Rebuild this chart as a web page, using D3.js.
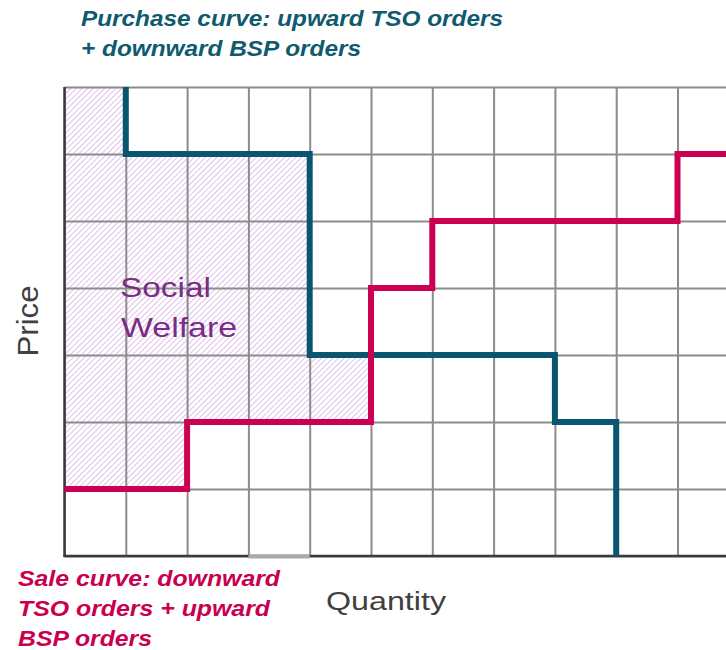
<!DOCTYPE html>
<html><head><meta charset="utf-8">
<script src="https://cdn.jsdelivr.net/npm/d3@7"></script>
<style>html,body{margin:0;padding:0;background:#fff;}svg{display:block;font-family:"Liberation Sans",Arial,sans-serif;}</style>
</head><body><div id="chart"></div>
<script>
// Data (in grid units: quantity steps and price steps)
const qtyTicks = d3.range(0, 12);      // 0..11 vertical grid lines
const priceTicks = d3.range(0, 8);     // 0..7 horizontal grid lines
// Purchase curve: vertical drops at these quantities, prices between them
const purchaseQty = [1, 4, 8, 9];
const purchasePrice = [7, 6, 3, 2, 0];
// Sale curve: step breakpoints and price levels
const saleQty = [0, 2, 5, 6, 10, 11];
const salePrice = [1, 2, 4, 5, 6];
const welfareEndQty = 5;
const welfareQty = [0, 1, 2, 4, 5];

const titleLines = ["Purchase curve: upward TSO orders", "+ downward BSP orders"];
const saleLines = ["Sale curve: downward", "TSO orders + upward", "BSP orders"];
const welfareLines = ["Social", "Welfare"];

const W = 726, H = 650;
const svg = d3.select("#chart").append("svg").attr("width", W).attr("height", H);

const x = d3.scaleLinear().domain([0, 11]).range([64.5, 64.5 + 11 * 61.3]);
const y = d3.scaleLinear().domain([0, 7]).range([556, 87]);

// hatch pattern
const defs = svg.append("defs");
const pat = defs.append("pattern").attr("id", "hatch").attr("patternUnits", "userSpaceOnUse")
  .attr("width", 4).attr("height", 4).attr("patternTransform", "rotate(45)");
pat.append("line").attr("x1", 0).attr("y1", 0).attr("x2", 0).attr("y2", 4)
  .attr("stroke", "#d4ade2").attr("stroke-width", 1.5);

// welfare area
const purchaseAt = q => purchasePrice[purchaseQty.filter(v => v <= q).length];
const saleAt = q => salePrice[saleQty.slice(1).filter(v => v <= q).length];
const welfareData = welfareQty.map((q, i) => {
  const qq = q >= welfareEndQty ? welfareQty[i - 1] : q;
  return {q, top: purchaseAt(qq), bot: saleAt(qq)};
});
svg.append("path").datum(welfareData)
  .attr("d", d3.area().curve(d3.curveStepAfter).x(d => x(d.q)).y0(d => y(d.bot)).y1(d => y(d.top)))
  .attr("fill", "url(#hatch)");

// grid
const gx = svg.append("g").attr("transform", `translate(0,${y(0)})`)
  .call(d3.axisBottom(x).tickValues(qtyTicks).tickSize(-(y(0) - y(7))).tickFormat(""));
gx.select(".domain").remove();
gx.selectAll(".tick line").attr("stroke", "#8c8c8c").attr("stroke-width", 2);
const gy = svg.append("g").attr("transform", `translate(${x(0)},0)`)
  .call(d3.axisLeft(y).tickValues(priceTicks).tickSize(-(x(11) - x(0))).tickFormat(""));
gy.select(".domain").remove();
gy.selectAll(".tick line").attr("stroke", "#8c8c8c").attr("stroke-width", 2);

// axes lines
svg.append("line").attr("x1", x(0)).attr("x2", x(0)).attr("y1", y(7)).attr("y2", y(0) + 1)
  .attr("stroke", "#3a3a3a").attr("stroke-width", 2.5);
svg.append("line").attr("x1", x(0) - 1).attr("x2", W).attr("y1", y(0)).attr("y2", y(0))
  .attr("stroke", "#3a3a3a").attr("stroke-width", 2.5);
svg.append("line").attr("x1", x(3)).attr("x2", x(4)).attr("y1", y(0) + 0.5).attr("y2", y(0) + 0.5)
  .attr("stroke", "#aaaaaa").attr("stroke-width", 4);

// curves
const purchasePts = [];
purchaseQty.forEach((q, i) => { purchasePts.push([q, purchasePrice[i]]); purchasePts.push([q, purchasePrice[i + 1]]); });
const salePts = [];
salePrice.forEach((p, i) => { salePts.push([saleQty[i], p]); salePts.push([saleQty[i + 1], p]); });
const line = d3.line().x(d => x(d[0])).y(d => y(d[1]));
svg.append("path").attr("d", line(purchasePts)).attr("fill", "none")
  .attr("stroke", "#0a5670").attr("stroke-width", 6).attr("stroke-linejoin", "miter").attr("stroke-linecap", "butt");
svg.append("path").attr("d", line(salePts)).attr("fill", "none")
  .attr("stroke", "#cc0052").attr("stroke-width", 6).attr("stroke-linejoin", "miter").attr("stroke-linecap", "butt");

// texts
const tW = [422, 280];
titleLines.forEach((t, i) => svg.append("text").attr("x", 81).attr("y", 26 + i * 30)
  .attr("font-size", 22).attr("font-weight", "bold").attr("font-style", "italic").attr("fill", "#0f5a6e")
  .attr("textLength", tW[i]).attr("lengthAdjust", "spacingAndGlyphs").text(t));
const sW = [262, 252, 134];
saleLines.forEach((t, i) => svg.append("text").attr("x", 18).attr("y", 586 + i * 30)
  .attr("font-size", 22).attr("font-weight", "bold").attr("font-style", "italic").attr("fill", "#c8004f")
  .attr("textLength", sW[i]).attr("lengthAdjust", "spacingAndGlyphs").text(t));
const wW = [91, 116];
welfareLines.forEach((t, i) => svg.append("text").attr("x", 120 + i).attr("y", 297 + i * 40)
  .attr("font-size", 28).attr("fill", "#7a2c86")
  .attr("textLength", wW[i]).attr("lengthAdjust", "spacingAndGlyphs").text(t));
svg.append("text").attr("x", 326).attr("y", 610).attr("font-size", 26).attr("fill", "#404040")
  .attr("textLength", 120).attr("lengthAdjust", "spacingAndGlyphs").text("Quantity");
svg.append("text").attr("transform", `translate(38,${321}) rotate(-90)`).attr("text-anchor", "middle")
  .attr("font-size", 29).attr("fill", "#404040")
  .attr("textLength", 71).attr("lengthAdjust", "spacingAndGlyphs").text("Price");
</script></body></html>
